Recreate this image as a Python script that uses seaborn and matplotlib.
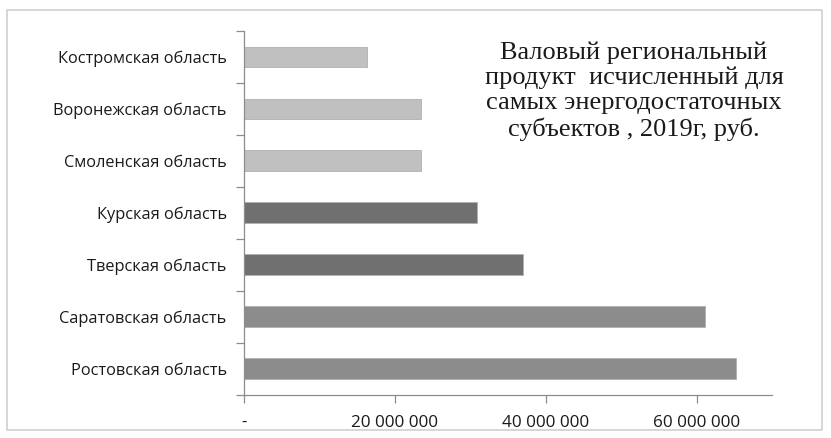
import matplotlib
matplotlib.use("Agg")
import matplotlib.pyplot as plt
import seaborn as sns
import pandas as pd
from matplotlib.patches import Rectangle
from matplotlib.ticker import FixedLocator, FuncFormatter

regions = ["Костромская область", "Воронежская область", "Смоленская область",
           "Курская область", "Тверская область", "Саратовская область",
           "Ростовская область"]
grp = [16.3e6, 23.4e6, 23.4e6, 30.9e6, 37.0e6, 61.1e6, 65.2e6]
bar_colors = ["#c0c0c0", "#c0c0c0", "#c0c0c0", "#707070", "#707070", "#8c8c8c", "#8c8c8c"]
x_ticks = [0, 20e6, 40e6, 60e6]
title_text = "Валовый региональный\nпродукт  исчисленный для\nсамых энергодостаточных\nсубъектов , 2019г, руб."

sns.set_theme(style="white")
plt.rcParams['font.family'] = ['Open Sans', 'DejaVu Sans']

df = pd.DataFrame({"region": regions, "value": grp})

fig = plt.figure(figsize=(8.31, 4.38), dpi=100)
ax = fig.add_axes([244/831, 1-394.5/438, (772-244)/831, (394.5-31)/438])

sns.barplot(data=df, y="region", x="value", hue="region", palette=bar_colors,
            orient="h", width=0.4, legend=False, ax=ax, saturation=1,
            edgecolor="#b0b0b0", linewidth=0.6)

ax.set_xlim(0, 70e6)
ax.set_ylim(6.5, -0.5)
ax.set_xlabel("")
ax.set_ylabel("")

ax.xaxis.set_major_locator(FixedLocator(x_ticks))
def fmt(v, pos):
    if v == 0:
        return "-"
    return f"{int(v):,}".replace(",", " ")
ax.xaxis.set_major_formatter(FuncFormatter(fmt))

ax.yaxis.set_minor_locator(FixedLocator([i - 0.5 for i in range(len(regions) + 1)]))
ax.tick_params(axis="y", which="major", length=0, pad=12.5, labelsize=11.8, labelcolor="#1a1a1a")
ax.tick_params(axis="y", which="minor", length=6, width=0.9, color="#8c8c8c", left=True)
ax.tick_params(axis="x", which="major", length=6, width=0.9, color="#8c8c8c", bottom=True,
               pad=8.5, labelsize=12.3, labelcolor="#1a1a1a")

for s in ["top", "right"]:
    ax.spines[s].set_visible(False)
for s in ["left", "bottom"]:
    ax.spines[s].set_color("#8c8c8c")
    ax.spines[s].set_linewidth(0.9)

fig.text(634/831, 1-91/438, title_text, ha="center", va="center",
         fontsize=19, family=["Liberation Serif", "DejaVu Serif"], linespacing=1.17,
         color="#1a1a1a")

fig.patches.append(Rectangle((7/831, 1-430/438), (822-7)/831, (430-10)/438,
                             transform=fig.transFigure, fill=False,
                             edgecolor="#cfcfcf", linewidth=1.2))

fig.savefig("out.png", dpi=100)
